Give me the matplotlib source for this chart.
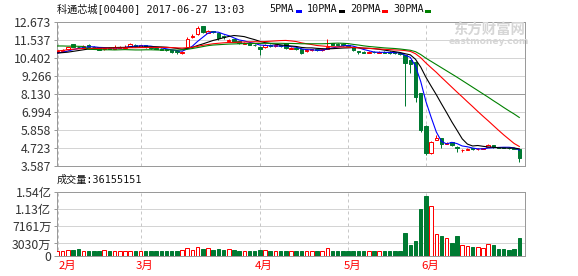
import matplotlib
matplotlib.use('Agg')
import matplotlib.pyplot as plt
import matplotlib.transforms as mtransforms
from matplotlib.patches import Rectangle
import numpy as np

# ---------------- data ----------------
opens = [10.78,10.85,10.95,11.28,11.12,11.05,11.20,11.12,11.08,10.95,
         11.05,11.00,11.05,11.05,11.12,11.25,11.12,11.20,11.10,11.05,
         11.00,10.95,10.90,10.85,10.72,11.12,11.70,11.90,12.40,12.00,
         12.08,11.98,11.82,11.45,11.58,11.45,11.30,11.35,11.25,11.12,
         11.12,11.25,11.15,11.20,11.32,11.00,11.05,11.00,10.85,10.88,
         10.95,10.90,11.00,11.32,11.30,11.28,11.20,11.12,10.82,10.80,
         10.72,10.80,10.74,10.80,10.78,10.76,10.72,10.60,10.27,10.17,
         8.17,6.11,4.39,5.25,5.33,4.98,5.10,4.78,4.58,4.62,
         4.70,4.64,4.66,4.80,4.90,4.78,4.76,4.74,4.72,4.64]
highs = [10.92,10.95,11.12,11.30,11.18,11.22,11.26,11.16,11.10,11.10,
         11.08,11.20,11.14,11.20,11.35,11.28,11.24,11.22,11.14,11.08,
         11.04,10.98,10.93,10.88,10.84,11.70,11.90,12.40,12.45,12.15,
         12.12,12.00,11.88,11.62,11.62,11.48,11.40,11.38,11.30,11.15,
         11.30,11.30,11.28,11.25,11.35,11.10,11.08,11.03,10.95,11.00,
         10.98,11.05,11.58,11.36,11.34,11.32,11.24,11.15,10.86,10.84,
         10.82,10.84,10.82,10.84,10.82,10.80,10.76,10.62,10.30,10.20,
         8.20,6.15,5.15,5.55,5.36,5.08,5.12,4.82,4.66,4.72,
         4.74,4.72,4.74,4.97,4.93,4.80,4.78,4.76,4.74,4.66]
lows = [10.72,10.80,10.92,11.08,11.02,11.02,11.08,11.04,10.88,10.92,
        10.96,10.96,11.02,11.02,11.08,11.10,11.08,11.06,10.98,10.94,
        10.88,10.82,10.72,10.68,10.68,11.08,11.65,11.85,12.00,11.95,
        11.95,11.55,11.62,11.40,11.38,11.30,11.26,11.20,11.15,10.62,
        11.05,11.12,11.10,11.10,10.98,10.95,10.92,10.68,10.80,10.85,
        10.85,10.86,10.96,11.20,11.20,11.15,11.10,10.84,10.68,10.70,
        10.70,10.70,10.70,10.70,10.68,10.66,10.62,7.35,9.44,7.64,
        5.72,4.30,4.35,5.20,4.70,4.95,4.88,4.50,4.45,4.58,
        4.58,4.62,4.64,4.76,4.74,4.72,4.70,4.68,4.66,3.86]
closes = [10.85,10.90,11.08,11.10,11.08,11.15,11.12,11.08,10.90,11.05,
          11.00,11.08,11.10,11.12,11.30,11.15,11.20,11.10,11.02,10.98,
          10.92,10.88,10.80,10.75,10.80,11.62,11.78,12.30,12.06,12.08,
          12.02,11.68,11.70,11.55,11.42,11.35,11.36,11.25,11.20,10.95,
          11.25,11.18,11.22,11.15,11.02,11.05,10.98,10.72,10.90,10.95,
          10.90,11.00,11.12,11.25,11.25,11.20,11.15,10.88,10.75,10.74,
          10.78,10.75,10.78,10.74,10.72,10.70,10.66,10.08,10.02,7.96,
          5.86,4.39,5.12,5.38,4.95,5.04,4.92,4.72,4.62,4.68,
          4.65,4.68,4.70,4.90,4.78,4.75,4.72,4.70,4.68,4.10]
# volume in millions of shares
volume = [12.0,11.2,14.4,14.4,16.0,12.2,12.0,11.8,12.0,14.4,
          12.0,11.2,11.2,11.0,11.2,12.0,11.2,12.0,12.2,11.8,
          12.0,12.0,12.2,12.0,14.4,18.4,14.4,20.7,17.6,19.2,
          14.4,16.8,14.4,16.0,14.4,12.8,11.2,12.8,12.8,14.4,
          14.4,12.0,11.2,12.0,12.2,12.0,12.0,11.8,12.0,12.0,
          12.0,12.2,18.4,12.0,12.0,12.2,12.0,12.0,11.8,12.0,
          12.0,12.0,12.0,12.2,12.0,12.0,12.2,55.9,26.3,35.9,
          112.5,143.6,119.7,52.7,47.9,42.3,31.9,47.9,26.3,23.9,
          20.7,20.7,18.4,27.9,25.5,16.8,16.8,14.4,16.8,43.9]
ma5 = [10.72,10.76,10.84,10.93,11.00,11.06,11.11,11.11,11.07,11.06,
       11.03,11.02,11.03,11.07,11.12,11.15,11.17,11.17,11.15,11.09,
       11.04,10.98,10.92,10.87,10.83,10.97,11.15,11.45,11.71,11.97,
       12.05,12.03,11.91,11.81,11.67,11.54,11.48,11.39,11.32,11.22,
       11.20,11.17,11.16,11.15,11.16,11.12,11.08,10.98,10.93,10.92,
       10.89,10.89,10.97,11.04,11.10,11.16,11.19,11.15,11.05,10.94,
       10.86,10.78,10.76,10.76,10.75,10.74,10.72,10.58,10.44,9.88,
       8.92,7.66,6.67,5.74,5.14,4.98,5.08,5.00,4.85,4.80,
       4.72,4.67,4.67,4.72,4.74,4.76,4.77,4.77,4.73,4.59]
ma10 = [10.72,10.74,10.77,10.82,10.87,10.92,10.97,11.00,11.02,11.03,
        11.05,11.06,11.07,11.07,11.09,11.09,11.10,11.10,11.11,11.11,
        11.10,11.08,11.05,11.01,10.96,11.01,11.07,11.19,11.29,11.40,
        11.51,11.59,11.68,11.76,11.82,11.79,11.75,11.65,11.56,11.45,
        11.37,11.32,11.27,11.23,11.19,11.16,11.13,11.07,11.04,11.04,
        11.01,10.99,10.98,10.99,11.01,11.03,11.04,11.06,11.05,11.02,
        11.01,10.99,10.95,10.90,10.85,10.80,10.75,10.67,10.60,10.32,
        9.83,9.19,8.63,8.09,7.51,6.95,6.37,5.84,5.30,4.97,
        4.85,4.88,4.83,4.79,4.77,4.74,4.72,4.72,4.72,4.67]
ma20 = [10.85,10.88,10.92,10.96,10.98,11.00,11.00,11.01,11.01,11.02,
        11.02,11.03,11.03,11.04,11.05,11.05,11.06,11.06,11.07,11.07,
        11.07,11.07,11.06,11.04,11.03,11.05,11.08,11.14,11.20,11.25,
        11.30,11.33,11.36,11.38,11.39,11.40,11.41,11.42,11.43,11.42,
        11.44,11.46,11.48,11.50,11.51,11.48,11.44,11.36,11.30,11.25,
        11.19,11.16,11.13,11.11,11.10,11.10,11.08,11.07,11.04,11.03,
        11.01,10.99,10.97,10.95,10.93,10.91,10.90,10.87,10.82,10.67,
        10.42,10.09,9.79,9.50,9.18,8.87,8.56,8.25,7.95,7.64,
        7.34,7.03,6.73,6.44,6.14,5.84,5.55,5.28,5.01,4.82]
ma30 = [11.16,11.16,11.15,11.15,11.14,11.13,10.95,10.94,10.93,10.92,
        10.92,10.91,10.92,10.93,10.92,10.91,10.91,10.92,10.92,10.91,
        10.90,10.91,10.91,10.90,10.92,10.95,11.00,11.06,11.12,11.18,
        11.22,11.24,11.26,11.28,11.29,11.30,11.31,11.31,11.32,11.32,
        11.33,11.33,11.33,11.33,11.32,11.32,11.31,11.30,11.30,11.30,
        11.30,11.30,11.31,11.33,11.34,11.33,11.31,11.26,11.22,11.17,
        11.13,11.10,11.07,11.04,11.02,11.00,10.97,10.93,10.89,10.80,
        10.62,10.39,10.19,9.99,9.79,9.59,9.39,9.19,8.98,8.77,
        8.56,8.35,8.14,7.93,7.71,7.50,7.28,7.07,6.87,6.65]

month_labels = ['2月', '3月', '4月', '5月', '6月']
month_start = [0, 16, 39, 56, 71]
price_ticks = [3.587, 4.723, 5.858, 6.994, 8.130, 9.266, 10.402, 11.537, 12.673]
vol_ticks = [0, 30.30, 71.61, 113.0, 154.0]
vol_tick_labels = ['0', '3030万', '7161万', '1.13亿', '1.54亿']
title_text = '科通芯城[00400] 2017-06-27 13:03'
vol_text = '成交量:36155151'
ma_names = ['5PMA', '10PMA', '20PMA', '30PMA']

# ---------------- style ----------------
RED = '#ff0000'
GREEN = '#007a32'
MA_COLORS = ['#0000ff', '#000000', '#ff0000', '#008000']
GRID = '#d4d4d4'
FRAME = '#9a9a9a'
TXT = '#333333'

plt.rcParams['font.family'] = ['Noto Sans CJK SC', 'DejaVu Sans']
MONO = ['DejaVu Sans Mono', 'Noto Sans CJK SC']

W, H = 578, 276
fig = plt.figure(figsize=(W / 100, H / 100), dpi=100)
fig.patch.set_facecolor('white')

def fx(px):
    return px / W

def fy(py):
    return 1 - py / H

L, R = 57, 525
axp = fig.add_axes([fx(L), fy(166), (R - L) / W, (166 - 22) / H])
axv = fig.add_axes([fx(L), fy(256), (R - L) / W, (256 - 192) / H])

n = len(closes)
idx = np.arange(n)
o = np.array(opens); c = np.array(closes)
hi = np.array(highs); lo = np.array(lows)
up = c >= o
cols = np.where(up, RED, GREEN)
LW = 0.72  # ~1px

for ax in (axp, axv):
    ax.set_xlim(-0.1, 90.1)
    for s in ax.spines.values():
        s.set_color(FRAME)
        s.set_linewidth(LW)
    for m in month_start:
        ax.axvline(m, color='#c8c8c8', lw=LW, ls=(0, (3, 3)), zorder=0.5)

# ---- price panel ----
axp.set_ylim(price_ticks[0], price_ticks[-1])
for k, t in enumerate(price_ticks[1:-1]):
    colr = FRAME if abs(t - 8.130) < 1e-6 else GRID
    axp.axhline(t, color=colr, lw=LW, zorder=0.4)

body_w = 0.66
axp.vlines(idx, lo, hi, colors=cols, lw=LW, zorder=2)
bottoms = np.minimum(o, c)
heights = np.maximum(np.abs(c - o), 0.004)
axp.bar(idx, heights, bottom=bottoms, width=body_w,
        color=np.where(up, 'white', GREEN), edgecolor=cols, linewidth=LW, zorder=3)

for ma, colr in zip([ma5, ma10, ma20, ma30], MA_COLORS):
    axp.plot(idx, ma, color=colr, lw=0.8, zorder=4)

axp.set_yticks(price_ticks)
axp.set_yticklabels(['%.3f' % t for t in price_ticks])
axp.tick_params(axis='y', length=2.5, width=LW, color=FRAME, pad=1.5,
                labelsize=8.8, labelcolor=TXT)
axp.tick_params(axis='x', length=0, labelbottom=False)

# watermark
fig.text(fx(489), fy(30.5), '东方财富网', fontsize=10.4, fontweight='bold',
         color='#d6d6d6', ha='center', va='center', zorder=0)
fig.text(fx(489), fy(41.5), 'eastmoney.com', fontsize=6.6, fontweight='bold',
         family=['DejaVu Sans'], color='#d6d6d6', ha='center', va='center', zorder=0)

# ---- volume panel ----
axv.set_ylim(0, 154.0)
for t in vol_ticks[1:-1]:
    axv.axhline(t, color=GRID, lw=LW, zorder=0.4)
axv.bar(idx, volume, width=0.68, color=np.where(up, 'white', GREEN),
        edgecolor=cols, linewidth=LW, zorder=3)
axv.set_yticks(vol_ticks)
axv.set_yticklabels(vol_tick_labels)
axv.tick_params(axis='y', length=2.5, width=LW, color=FRAME, pad=1.5,
                labelsize=8.8, labelcolor=TXT)
axv.set_xticks(month_start)
axv.set_xticklabels(month_labels)
axv.tick_params(axis='x', length=0, pad=3.5, labelsize=8.2, labelcolor=RED)
for k, lab in enumerate(axv.get_xticklabels()):
    dx = 10 if k == 0 else 4
    lab.set_transform(lab.get_transform() +
                      mtransforms.ScaledTranslation(dx / 100, 0, fig.dpi_scale_trans))

# ---- header texts ----
fig.text(fx(57), fy(9.5), title_text, fontsize=7.3, family=MONO,
         color='#111111', ha='left', va='center')
leg_x = [269, 307, 350, 393]
dash_x = [296, 339, 382, 425]
for name, xx, dx_, colr in zip(ma_names, leg_x, dash_x, MA_COLORS):
    fig.text(fx(xx), fy(9.5), name, fontsize=7.3, family=MONO,
             color='#111111', ha='left', va='center')
    fig.add_artist(Rectangle((fx(dx_), fy(12.5)), 6 / W, 2.8 / H,
                             transform=fig.transFigure, color=colr, lw=0))

fig.text(fx(57), fy(179.5), vol_text, fontsize=7.3, family=MONO,
         color='#111111', ha='left', va='center')

fig.savefig('out.png', dpi=100, facecolor='white')
